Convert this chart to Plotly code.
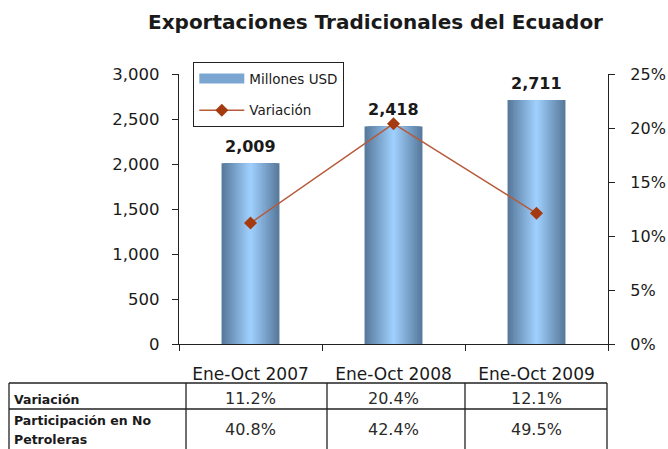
import plotly.graph_objects as go

# ---------------- data ----------------
categories = ["Ene-Oct 2007", "Ene-Oct 2008", "Ene-Oct 2009"]
millones_usd = [2009, 2418, 2711]
variacion = [0.112, 0.204, 0.121]
participacion = [0.408, 0.424, 0.495]
row_label_lines = [["Variación"], ["Participación en No", "Petroleras"]]
left_ticks = [0, 500, 1000, 1500, 2000, 2500, 3000]
right_ticks = [0, 0.05, 0.10, 0.15, 0.20, 0.25]

FONT = "DejaVu Sans"
TXT = "#1a1a1a"
AX = "#222222"

fig = go.Figure()

# legend entry for the bars (wide swatch)
fig.add_trace(go.Scatter(x=[None], y=[None], mode="lines", name="Millones USD",
                         line=dict(color="#7ba6d2", width=10), legendgroup="a"))

# gradient bars: overlaid bars of decreasing width, lighter toward the centre
BAR_W = 0.405
N = 16
edge = (88, 122, 156)
center = (158, 206, 252)
for k in range(N):
    t = k / (N - 1)
    col = tuple(round(edge[i] + (center[i] - edge[i]) * t) for i in range(3))
    fig.add_trace(go.Bar(x=categories, y=millones_usd, width=BAR_W * (1 - k / N),
                         marker=dict(color="rgb(%d,%d,%d)" % col, line=dict(width=0)),
                         showlegend=False, hoverinfo="skip"))

fig.add_trace(go.Scatter(x=categories, y=variacion, yaxis="y2", mode="lines+markers",
                         name="Variación", legendgroup="b",
                         line=dict(color="#b65a3a", width=1.5),
                         marker=dict(symbol="diamond", size=10, color="#a53a10")))

annotations = []
for c, v in zip(categories, millones_usd):
    annotations.append(dict(x=c, y=v, xref="x", yref="y", text="<b>%s</b>" % f"{v:,}",
                            showarrow=False, yanchor="bottom", yshift=5,
                            font=dict(family=FONT, size=16, color=TXT)))

# table
def py(px):  # pixel row -> paper y
    return (344 - px) / 270

def pxx(px):  # pixel col -> paper x
    return (px - 179) / 429

row_value_y = [398, 429]
for vals, yy in zip([variacion, participacion], row_value_y):
    for c, v in zip(categories, vals):
        annotations.append(dict(x=c, y=py(yy), xref="x", yref="paper", text=f"{v*100:.1f}%",
                                showarrow=False, yanchor="middle",
                                font=dict(family=FONT, size=16, color="#2a2a2a")))
label_y = [[399], [420, 439]]
for lines, ys in zip(row_label_lines, label_y):
    for t, yy in zip(lines, ys):
        annotations.append(dict(x=pxx(12), y=py(yy), xref="paper", yref="paper", text="<b>%s</b>" % t,
                                showarrow=False, xanchor="left", yanchor="middle",
                                font=dict(family=FONT, size=12.5, color=TXT)))

shapes = []
col_edges = [9, 186, 327, 465, 607]
for xe in col_edges:
    shapes.append(dict(type="line", xref="paper", yref="paper", x0=pxx(xe), x1=pxx(xe),
                       y0=py(383), y1=py(452), line=dict(color=AX, width=1.3)))
for ye in [383, 409]:
    shapes.append(dict(type="line", xref="paper", yref="paper", x0=pxx(9), x1=pxx(607),
                       y0=py(ye), y1=py(ye), line=dict(color=AX, width=1.3)))

fig.update_layout(
    width=668, height=449,
    margin=dict(l=179, r=60, t=74, b=105, autoexpand=False),
    paper_bgcolor="white", plot_bgcolor="white",
    barmode="overlay",
    font=dict(family=FONT, color=TXT),
    title=dict(text="<b>Exportaciones Tradicionales del Ecuador</b>",
               x=(375.5 - 179) / 429, xref="paper", xanchor="center",
               y=1 - 22 / 449, yref="container", yanchor="middle",
               font=dict(family=FONT, size=20, color=TXT)),
    xaxis=dict(type="category", range=[-0.5, 2.5], showline=True, linecolor=AX, linewidth=1.3,
               ticks="outside", tickson="boundaries", ticklen=6, tickcolor=AX, tickwidth=1.3,
               showgrid=False, zeroline=False, ticklabelstandoff=14, automargin=False,
               tickfont=dict(family=FONT, size=17, color=TXT)),
    yaxis=dict(range=[0, 3000], tickvals=left_ticks, ticktext=[f"{v:,}" for v in left_ticks],
               showline=True, linecolor=AX, linewidth=1.3, ticks="outside", ticklen=6,
               tickcolor=AX, tickwidth=1.3, showgrid=False, zeroline=False, automargin=False,
               ticklabelstandoff=9, tickfont=dict(family=FONT, size=16.5, color=TXT)),
    yaxis2=dict(range=[0, 0.25], tickvals=right_ticks,
                ticktext=[f"{v*100:.0f}%" for v in right_ticks],
                overlaying="y", side="right", showline=True, linecolor=AX, linewidth=1.3,
                ticks="outside", ticklen=6, tickcolor=AX, tickwidth=1.3, showgrid=False,
                zeroline=False, ticklabelstandoff=12, automargin=False,
                tickfont=dict(family=FONT, size=16, color=TXT)),
    legend=dict(x=pxx(193), y=py(62), xanchor="left", yanchor="top",
                bordercolor="#222", borderwidth=1.3, bgcolor="white",
                font=dict(family=FONT, size=13.5, color=TXT), itemwidth=45,
                traceorder="grouped", tracegroupgap=11),
    annotations=annotations,
    shapes=shapes,
    showlegend=True,
)

fig.write_html("out.html", config={"displayModeBar": False},
               post_script="document.body.style.margin='0';")
